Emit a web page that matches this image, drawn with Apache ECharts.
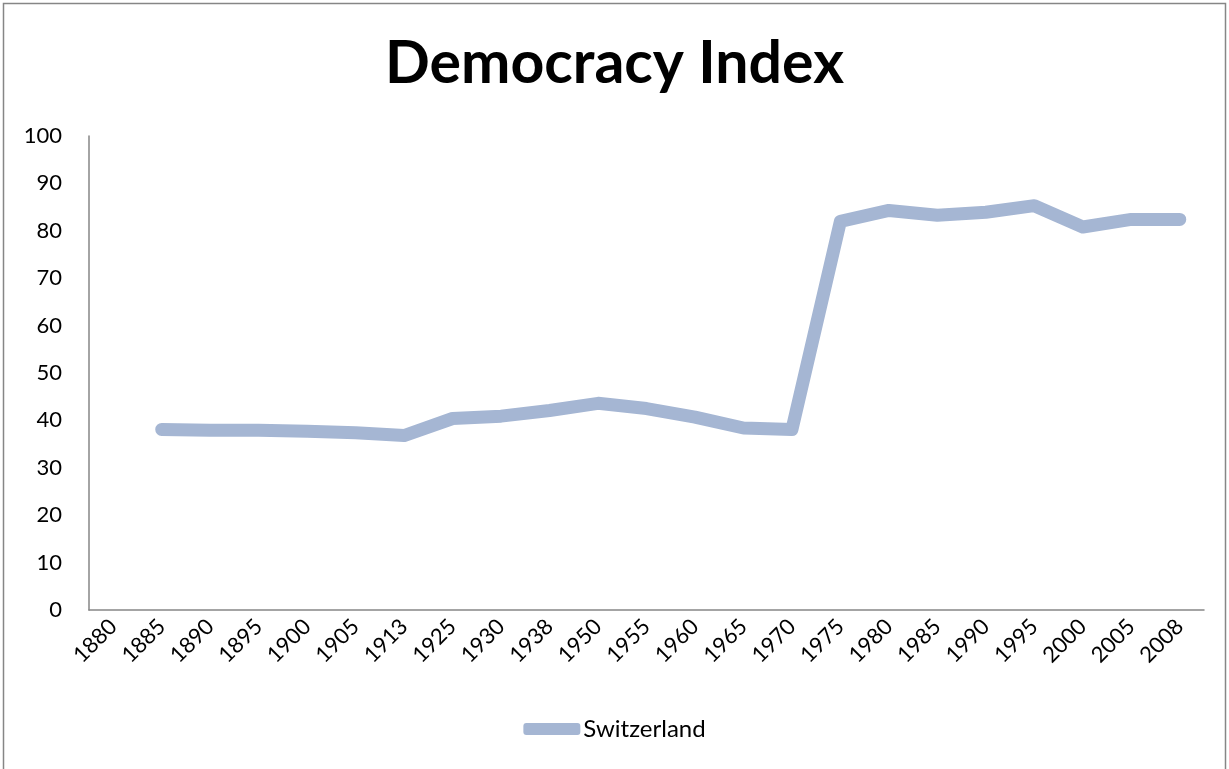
<!DOCTYPE html>
<html>
<head>
<meta charset="utf-8">
<style>
  html, body { margin: 0; padding: 0; background: #fff; }
  #chart { width: 1229px; height: 769px; }
</style>
<script src="https://cdn.jsdelivr.net/npm/echarts@6/dist/echarts.min.js"></script>
</head>
<body>
<div id="chart"></div>
<script>
// Survey years along the horizontal axis
const years = ['1880', '1885', '1890', '1895', '1900', '1905', '1913', '1925', '1930', '1938',
  '1950', '1955', '1960', '1965', '1970', '1975', '1980', '1985', '1990', '1995', '2000', '2005', '2008'];

// Democracy index for Switzerland (no value for 1880)
const switzerland = [null, 38.1, 37.9, 37.9, 37.7, 37.4, 36.8, 40.4, 40.9, 42.1,
  43.6, 42.5, 40.7, 38.4, 38.1, 82.0, 84.3, 83.3, 83.9, 85.3, 80.8, 82.4, 82.4];

// Value axis ticks
const yTicks = { min: 0, max: 100, step: 10 };

const FONT = 'Lato, "Open Sans", "Liberation Sans", sans-serif';
const AXIS_GREY = '#868686';
const LINE_COLOR = '#a5b6d3';

const chart = echarts.init(document.getElementById('chart'), null, { renderer: 'canvas' });

chart.setOption({
  backgroundColor: '#ffffff',
  animation: false,
  title: {
    text: 'Democracy Index',
    left: 'center',
    top: 29,
    textStyle: { fontFamily: FONT, fontWeight: 'bold', fontSize: 59, color: '#000' }
  },
  graphic: [{
    type: 'rect',
    shape: { x: 3.5, y: 3.5, width: 1222, height: 800 },
    style: { fill: null, stroke: AXIS_GREY, lineWidth: 1.5 },
    silent: true
  }],
  legend: {
    data: ['Switzerland'],
    bottom: 23,
    left: 'center',
    icon: 'roundRect',
    itemWidth: 57,
    itemHeight: 12,
    itemGap: 4,
    textStyle: { fontFamily: FONT, fontSize: 24, color: '#000', padding: [0, 0, 0, -2] }
  },
  grid: { left: 89, right: 25, top: 136, bottom: 159, containLabel: false },
  xAxis: {
    type: 'category',
    data: years,
    boundaryGap: true,
    axisLine: { show: true, lineStyle: { color: AXIS_GREY, width: 1.5 } },
    axisTick: { show: false },
    axisLabel: {
      interval: 0,
      rotate: 45,
      margin: 13,
      fontFamily: FONT,
      fontSize: 22,
      color: '#000'
    },
    splitLine: { show: false }
  },
  yAxis: {
    type: 'value',
    min: yTicks.min,
    max: yTicks.max,
    interval: yTicks.step,
    axisLine: { show: true, lineStyle: { color: AXIS_GREY, width: 1.5 } },
    axisTick: { show: false },
    axisLabel: { margin: 27, fontFamily: FONT, fontSize: 22, color: '#000' },
    splitLine: { show: false }
  },
  series: [{
    name: 'Switzerland',
    type: 'line',
    data: switzerland,
    symbol: 'none',
    smooth: false,
    connectNulls: false,
    lineStyle: { color: LINE_COLOR, width: 13, cap: 'round', join: 'round' },
    itemStyle: { color: LINE_COLOR }
  }]
});
</script>
</body>
</html>
